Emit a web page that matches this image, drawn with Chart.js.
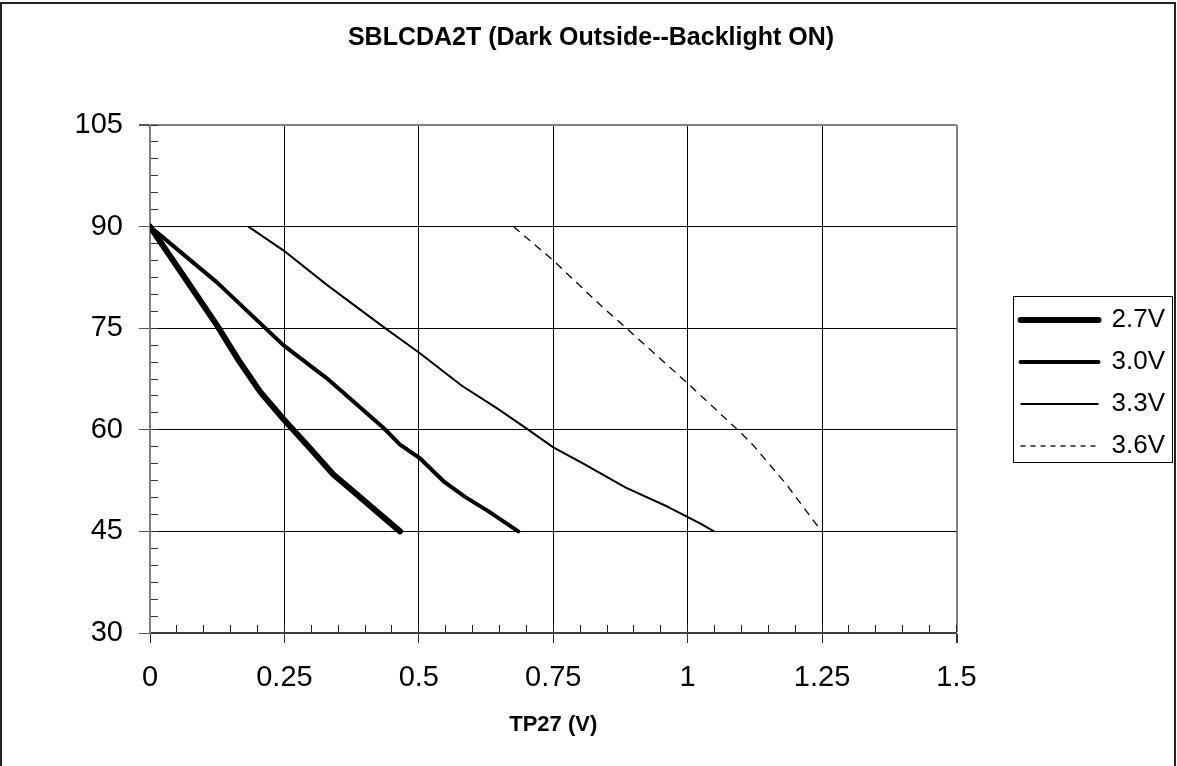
<!DOCTYPE html>
<html>
<head>
<meta charset="utf-8">
<title>SBLCDA2T (Dark Outside--Backlight ON)</title>
<script src="https://cdn.jsdelivr.net/npm/chart.js@4.4.1/dist/chart.umd.min.js"></script>
<style>
  html, body { margin: 0; padding: 0; background: #fff; }
  #wrap { width: 1177px; height: 766px; }
</style>
</head>
<body>
<div id="wrap"><canvas id="chart" width="1177" height="766"></canvas></div>
<script>
// values
const SERIES_LABELS = ["2.7V", "3.0V", "3.3V", "3.6V"]

const V27_X = [0, 0.06, 0.124, 0.167, 0.205, 0.248, 0.295, 0.341, 0.375, 0.44, 0.465]
const V27_Y = [90, 83, 75.5, 70, 65.6, 61.6, 57.5, 53.4, 51.1, 46.7, 45]

const V30_X = [0, 0.124, 0.248, 0.329, 0.434, 0.465, 0.502, 0.546, 0.586, 0.629, 0.685]
const V30_Y = [90, 81.8, 72.5, 67.6, 60.3, 57.8, 55.8, 52.4, 50.1, 48, 45]

const V33_X = [0.183, 0.248, 0.329, 0.434, 0.502, 0.58, 0.645, 0.7, 0.75, 0.806, 0.884, 0.964, 1.023, 1.049]
const V33_Y = [90, 86.5, 81.4, 75.2, 71.3, 66.5, 63.2, 60.2, 57.4, 55, 51.5, 48.6, 46.2, 45]

const V36_X = [0.676, 0.75, 0.843, 0.886, 0.998, 1.097, 1.121, 1.184, 1.249]
const V36_Y = [90, 85, 78, 75, 67, 59.7, 57.8, 51.9, 45]

const X_MIN = 0
const X_MAX = 1.5
const X_MAJOR = 0.25
const X_MINOR = 0.05
const Y_MIN = 30
const Y_MAX = 105
const Y_MAJOR = 15
const Y_MINOR = 2.5

Chart.defaults.font.family = "'Liberation Sans', Arial, sans-serif"
Chart.defaults.color = "#000"

const toPoints = (xs, ys) => xs.map((x, i) => ({ x: x, y: ys[i] }))

const LINE_STYLES = [
  { borderWidth: 6, borderDash: [], legendDash: [], cap: "round" },
  { borderWidth: 4, borderDash: [], legendDash: [], cap: "round" },
  { borderWidth: 2, borderDash: [], legendDash: [], cap: "butt" },
  { borderWidth: 1.3, borderDash: [8, 6], legendDash: [5, 5], cap: "butt" },
]

const SERIES_DATA = [
  toPoints(V27_X, V27_Y),
  toPoints(V30_X, V30_Y),
  toPoints(V33_X, V33_Y),
  toPoints(V36_X, V36_Y),
]

const datasets = SERIES_LABELS.map((label, i) => ({
  label: label,
  data: SERIES_DATA[i],
  xAxisID: "x",
  yAxisID: "y",
  showLine: true,
  fill: false,
  tension: 0,
  pointRadius: 0,
  pointHoverRadius: 0,
  borderColor: "#000",
  backgroundColor: "#000",
  borderJoinStyle: "round",
  borderCapStyle: LINE_STYLES[i].cap,
  borderWidth: LINE_STYLES[i].borderWidth,
  borderDash: LINE_STYLES[i].borderDash,
}))

const formatTick = (value) => String(Math.round(value * 100) / 100)

// frame round the legend and round the whole picture
const frames = {
  id: "frames",
  afterDraw: (chart) => {
    const { ctx } = chart
    const boxes = chart.legend.legendHitBoxes

    ctx.save()

    if (boxes && boxes.length) {
      const left = Math.min(...boxes.map((b) => b.left)) - 8
      const top = Math.min(...boxes.map((b) => b.top)) - 11
      const right = Math.max(...boxes.map((b) => b.left + b.width)) + 7
      const bottom = Math.max(...boxes.map((b) => b.top + b.height)) + 3

      ctx.strokeStyle = "#000"
      ctx.lineWidth = 1
      ctx.strokeRect(Math.round(left) + 0.5, Math.round(top) + 0.5, Math.round(right - left), Math.round(bottom - top))
    }

    ctx.beginPath()
    ctx.moveTo(1, chart.height)
    ctx.lineTo(1, 3)
    ctx.lineTo(1175, 3)
    ctx.lineTo(1175, chart.height)
    ctx.strokeStyle = "#222"
    ctx.lineWidth = 2
    ctx.stroke()

    ctx.restore()
  },
}

new Chart(document.getElementById("chart"), {
  type: "scatter",
  data: { datasets: datasets },
  plugins: [frames],
  options: {
    responsive: false,
    animation: false,
    devicePixelRatio: 1,
    events: [],
    layout: {
      padding: { left: 7, right: 2, top: 0, bottom: 0 },
    },
    plugins: {
      tooltip: { enabled: false },
      title: {
        display: true,
        text: "SBLCDA2T (Dark Outside--Backlight ON)",
        color: "#000",
        font: { size: 25, weight: "bold" },
        padding: { top: 23, bottom: 72 },
      },
      legend: {
        display: true,
        position: "right",
        maxWidth: 200,
        labels: {
          color: "#000",
          font: { size: 26 },
          usePointStyle: true,
          pointStyle: "line",
          pointStyleWidth: 78,
          padding: 16,
          generateLabels: (chart) =>
            Chart.defaults.plugins.legend.labels.generateLabels(chart).map((item) => ({
              ...item,
              lineWidth: LINE_STYLES[item.datasetIndex].borderWidth,
              lineDash: LINE_STYLES[item.datasetIndex].legendDash,
              lineCap: LINE_STYLES[item.datasetIndex].cap,
            })),
        },
      },
    },
    scales: {
      x: {
        type: "linear",
        position: "bottom",
        weight: 1,
        min: X_MIN,
        max: X_MAX,
        afterFit: (scale) => {
          scale.height = 133
        },
        ticks: {
          stepSize: X_MAJOR,
          autoSkip: false,
          maxRotation: 0,
          padding: 18,
          font: { size: 29 },
          color: "#000",
          callback: formatTick,
        },
        grid: {
          color: (c) => (c.tick && c.tick.value === X_MAX ? "#808080" : "#000"),
          lineWidth: (c) => (c.tick && c.tick.value === X_MAX ? 2 : 1),
          tickColor: "#333",
          tickLength: 10,
        },
        border: { color: "#404040", width: 2 },
        title: {
          display: true,
          text: "TP27 (V)",
          color: "#000",
          font: { size: 22, weight: "bold" },
          padding: { top: 0, bottom: 28 },
        },
      },
      xMinor: {
        type: "linear",
        position: "bottom",
        weight: 0,
        min: X_MIN,
        max: X_MAX,
        afterFit: (scale) => {
          scale.height = 0
        },
        ticks: { stepSize: X_MINOR, display: false },
        grid: { drawOnChartArea: false, tickLength: -8, color: "#222" },
        border: { display: false },
      },
      y: {
        type: "linear",
        position: "left",
        weight: 1,
        min: Y_MIN,
        max: Y_MAX,
        afterFit: (scale) => {
          scale.width = 143
        },
        ticks: {
          stepSize: Y_MAJOR,
          autoSkip: false,
          padding: 16,
          font: { size: 29 },
          color: "#000",
          callback: formatTick,
        },
        grid: {
          color: (c) => (c.tick && c.tick.value === Y_MAX ? "#808080" : "#000"),
          lineWidth: (c) => (c.tick && c.tick.value === Y_MAX ? 2 : 1),
          tickColor: "#555",
          tickLength: 11,
        },
        border: { color: "#808080", width: 2 },
      },
      yMinor: {
        type: "linear",
        position: "left",
        weight: 0,
        min: Y_MIN,
        max: Y_MAX,
        afterFit: (scale) => {
          scale.width = 0
        },
        ticks: { stepSize: Y_MINOR, display: false },
        grid: { drawOnChartArea: false, tickLength: -8, color: "#333" },
        border: { display: false },
      },
      // empty gap between the plot and the legend
      gap: {
        type: "linear",
        position: "right",
        weight: 0,
        afterFit: (scale) => {
          scale.width = 48
        },
        ticks: { display: false },
        grid: { display: false },
        border: { display: false },
      },
    },
  },
})
</script>
</body>
</html>
